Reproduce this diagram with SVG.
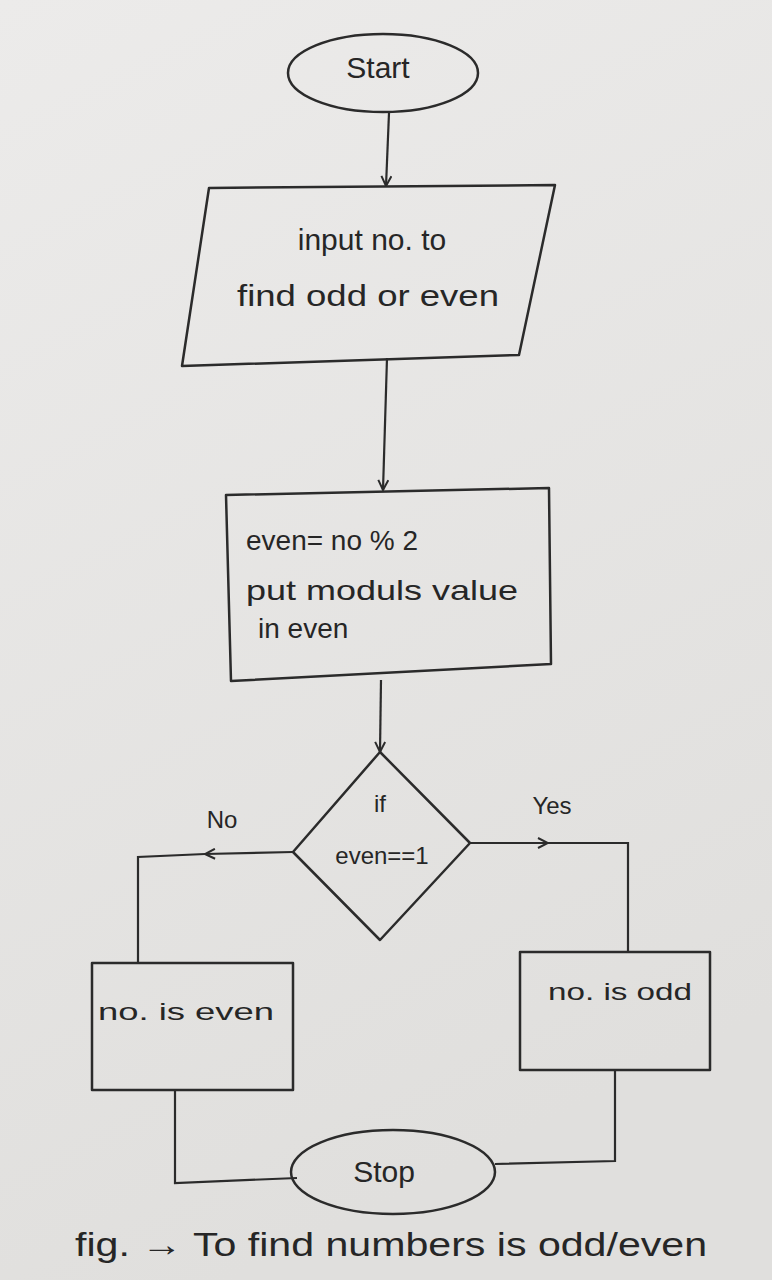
<svg xmlns="http://www.w3.org/2000/svg" width="772" height="1280" viewBox="0 0 772 1280">
<defs>
<linearGradient id="paper" x1="0" y1="0" x2="0.3" y2="1">
<stop offset="0" stop-color="#ecebea"/>
<stop offset="1" stop-color="#e0dfdd"/>
</linearGradient>
<marker id="arr" viewBox="0 0 12 12" refX="11" refY="6" markerWidth="12" markerHeight="12" markerUnits="userSpaceOnUse" orient="auto">
<path d="M1,1 L11,6 L1,11" fill="none" stroke="#2b2b2b" stroke-width="2"/>
</marker>
</defs>
<style>
.shape{fill:none;stroke:#2b2b2b;stroke-width:2.5;stroke-linejoin:round}
.conn{fill:none;stroke:#2b2b2b;stroke-width:2.2}
text{font-family:"Liberation Sans","DejaVu Sans",sans-serif;fill:#262626}
.t{font-size:30px}
.p{font-size:28px}
.s{font-size:24px}
</style>
<rect x="0" y="0" width="772" height="1280" fill="url(#paper)"/>
<g id="connectors">
<line class="conn" x1="389" y1="113" x2="386" y2="186" marker-end="url(#arr)"/>
<line class="conn" x1="387" y1="358" x2="383" y2="490" marker-end="url(#arr)"/>
<line class="conn" x1="381" y1="680" x2="380" y2="752" marker-end="url(#arr)"/>
<line class="conn" x1="293" y1="852" x2="205" y2="854" marker-end="url(#arr)"/>
<polyline class="conn" points="205,854 138,857 138,964"/>
<line class="conn" x1="470" y1="843" x2="548" y2="843" marker-end="url(#arr)"/>
<polyline class="conn" points="548,843 628,843 628,952"/>
<polyline class="conn" points="175,1090 175,1183 297,1178"/>
<polyline class="conn" points="615,1069 615,1161 495,1164"/>
<text class="s" x="222" y="828" text-anchor="middle">No</text>
<text class="s" x="552" y="814" text-anchor="middle">Yes</text>
</g>
<g id="start">
<ellipse class="shape" cx="383" cy="73" rx="95" ry="39"/>
<text class="t" x="378" y="78" text-anchor="middle">Start</text>
</g>
<g id="input">
<polygon class="shape" points="209,188 555,185 519,355 182,366"/>
<text class="t" x="372" y="250" text-anchor="middle">input no. to</text>
<text class="t" x="368" y="306" text-anchor="middle" textLength="262" lengthAdjust="spacingAndGlyphs">find odd or even</text>
</g>
<g id="process">
<polygon class="shape" points="226,495 549,488 551,664 231,681"/>
<text class="p" x="246" y="550">even= no % 2</text>
<text class="p" x="246" y="600" textLength="272" lengthAdjust="spacingAndGlyphs">put moduls value</text>
<text class="p" x="258" y="638">in   even</text>
</g>
<g id="decision">
<polygon class="shape" points="380,752 470,843 380,940 293,852"/>
<text class="s" x="380" y="812" text-anchor="middle">if</text>
<text class="s" x="382" y="864" text-anchor="middle">even==1</text>
</g>
<g id="even">
<rect class="shape" x="92" y="963" width="201" height="127"/>
<text class="s" x="186" y="1020" text-anchor="middle" textLength="176" lengthAdjust="spacingAndGlyphs">no. is even</text>
</g>
<g id="odd">
<rect class="shape" x="520" y="952" width="190" height="118"/>
<text class="s" x="620" y="1000" text-anchor="middle" textLength="144" lengthAdjust="spacingAndGlyphs">no. is odd</text>
</g>
<g id="stop">
<ellipse class="shape" cx="393" cy="1172" rx="102" ry="42"/>
<text class="t" x="384" y="1182" text-anchor="middle">Stop</text>
</g>
<text x="75" y="1256" font-size="34" textLength="632" lengthAdjust="spacingAndGlyphs">fig. → To find numbers is odd/even</text>
</svg>
